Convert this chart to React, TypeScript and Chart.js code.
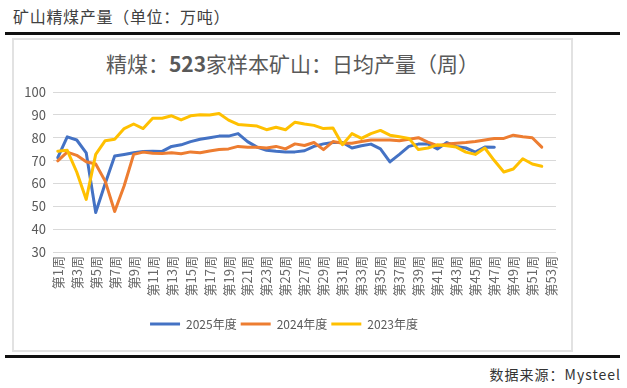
import React, { useEffect, useRef } from 'react';
import { Chart, registerables } from 'chart.js';

Chart.register(...registerables);

const weeks = [
  '第1周', '第2周', '第3周', '第4周', '第5周', '第6周', '第7周', '第8周', '第9周', '第10周',
  '第11周', '第12周', '第13周', '第14周', '第15周', '第16周', '第17周', '第18周', '第19周', '第20周',
  '第21周', '第22周', '第23周', '第24周', '第25周', '第26周', '第27周', '第28周', '第29周', '第30周',
  '第31周', '第32周', '第33周', '第34周', '第35周', '第36周', '第37周', '第38周', '第39周', '第40周',
  '第41周', '第42周', '第43周', '第44周', '第45周', '第46周', '第47周', '第48周', '第49周', '第50周',
  '第51周', '第52周', '第53周',
];

const series2025 = [
  71.3, 80.4, 79.0, 73.4, 47.3, 60.0, 72.0, 72.7, 73.4, 74.0,
  74.1, 74.0, 76.2, 76.9, 78.3, 79.3, 80.0, 80.7, 80.7, 81.8,
  78.3, 75.9, 74.5, 74.1, 73.8, 73.8, 74.3, 76.2, 77.3, 77.9,
  77.9, 75.5, 76.5, 77.2, 75.1, 69.4, 72.7, 76.2, 77.2, 77.3,
  75.1, 77.9, 76.2, 75.5, 73.7, 75.9, 75.8,
];

const series2024 = [
  69.9, 73.7, 72.3, 69.5, 68.5, 61.0, 47.7, 59.0, 72.7, 73.7,
  73.2, 73.1, 73.4, 73.0, 73.8, 73.4, 74.2, 74.8, 75.1, 76.2,
  75.8, 75.8, 75.5, 76.2, 75.1, 77.3, 76.6, 77.9, 74.8, 78.3,
  77.6, 77.6, 78.3, 79.0, 79.0, 79.0, 78.7, 79.3, 80.0, 78.1,
  76.5, 77.2, 77.6, 77.9, 78.3, 79.0, 79.7, 79.7, 81.1, 80.4,
  80.0, 75.9,
];

const series2023 = [
  74.1, 74.5, 65.0, 53.0, 72.7, 78.7, 79.3, 84.0, 86.0, 84.0,
  88.5, 88.5, 89.6, 87.8, 89.6, 90.0, 89.9, 90.6, 87.7, 85.8,
  85.5, 85.1, 83.5, 84.6, 83.5, 86.8, 86.0, 85.4, 84.0, 84.2,
  76.9, 81.8, 79.7, 81.8, 83.2, 81.1, 80.4, 79.7, 74.8, 75.5,
  76.9, 76.5, 75.9, 73.7, 72.7, 75.5, 70.0, 65.0, 66.3, 70.8,
  68.5, 67.5,
];

const seriesNames = ['2025年度', '2024年度', '2023年度'];
const seriesColors = ['#4472C4', '#ED7D31', '#FFC000'];

const FONT = "'Noto Sans CJK SC', 'Noto Sans', sans-serif";
const TEXT = '#595959';

export default function App() {
  const ref = useRef<HTMLCanvasElement>(null);

  useEffect(() => {
    const values = [series2025, series2024, series2023];
    const chart = new Chart(ref.current as HTMLCanvasElement, {
      type: 'line',
      data: {
        labels: weeks,
        datasets: values.map((d, i) => ({
          label: seriesNames[i],
          data: d,
          borderColor: seriesColors[i],
          backgroundColor: seriesColors[i],
          order: 3 - i,
        })),
      },
      options: {
        animation: false,
        responsive: false,
        maintainAspectRatio: false,
        layout: { padding: { top: 54, right: 17, bottom: 12, left: 0 } },
        elements: {
          line: { borderWidth: 3, tension: 0, borderJoinStyle: 'round', borderCapStyle: 'round', fill: false },
          point: { radius: 0, hoverRadius: 0 },
        },
        plugins: {
          title: { display: false },
          tooltip: { enabled: false },
          legend: {
            position: 'bottom',
            labels: {
              boxWidth: 30,
              boxHeight: 3,
              padding: 4,
              color: TEXT,
              font: { family: FONT, size: 12 },
              generateLabels: (c: any) =>
                Chart.defaults.plugins.legend.labels
                  .generateLabels(c)
                  .map((l: any) => ({ ...l, lineWidth: 0, fillStyle: l.strokeStyle }))
                  .sort((a: any, b: any) => a.datasetIndex - b.datasetIndex),
            },
          },
        },
        scales: {
          x: {
            offset: true,
            grid: { display: false, drawTicks: false },
            border: { display: false },
            ticks: {
              autoSkip: false,
              maxRotation: 90,
              minRotation: 90,
              padding: 4,
              color: '#6a6a6a',
              font: { family: FONT, size: 13 },
              callback: (_v: any, i: number) => (i % 2 === 0 ? weeks[i] : ''),
            },
            afterFit: (s: any) => {
              s.height = 62;
            },
          },
          y: {
            min: 30,
            max: 100,
            ticks: { stepSize: 10, padding: 7, color: TEXT, font: { family: FONT, size: 13 } },
            grid: { color: '#d9d9d9', lineWidth: 1, drawTicks: false },
            border: { display: false },
            afterFit: (s: any) => {
              s.width = 41;
            },
          },
        },
      },
    });
    return () => chart.destroy();
  }, []);

  return (
    <div style={{ position: 'absolute', left: 0, top: 0, width: 627, height: 388, background: '#fff', overflow: 'hidden' }}>
      <div
        style={{
          position: 'absolute', left: 13, top: 5, fontFamily: FONT, fontSize: 16, lineHeight: '22px',
          color: '#404040', letterSpacing: '0.7px', whiteSpace: 'nowrap',
        }}
      >
        矿山精煤产量（单位：万吨）
      </div>
      <div style={{ position: 'absolute', left: 5, top: 32, width: 615, height: 3, background: '#111' }} />
      <div
        style={{
          position: 'absolute', left: 12, top: 38, width: 561, height: 314, boxSizing: 'border-box',
          border: '2px solid #e2e2e2',
        }}
      />
      <div
        style={{
          position: 'absolute', left: 12, top: 49, width: 561, textAlign: 'center', fontFamily: FONT,
          fontSize: 21, lineHeight: '28px', color: TEXT, whiteSpace: 'nowrap',
        }}
      >
        精煤：<span style={{ fontWeight: 'bold' }}>523</span>家样本矿山：日均产量（周）
      </div>
      <canvas
        ref={ref}
        width={561}
        height={314}
        style={{ position: 'absolute', left: 12, top: 38, width: 561, height: 314 }}
      />
      <div style={{ position: 'absolute', left: 5, top: 355, width: 615, height: 3, background: '#111' }} />
      <div
        style={{
          position: 'absolute', right: 6, top: 364, fontFamily: FONT, fontSize: 14, lineHeight: '20px',
          color: '#333', letterSpacing: '1px', whiteSpace: 'nowrap',
        }}
      >
        数据来源：Mysteel
      </div>
    </div>
  );
}
